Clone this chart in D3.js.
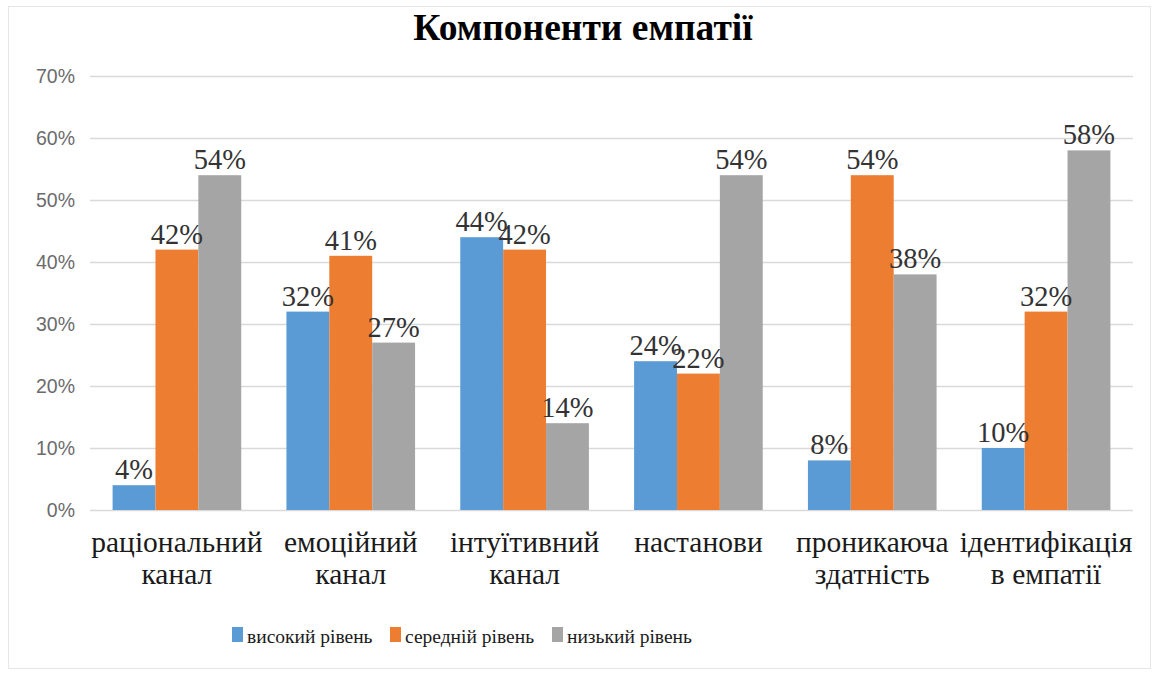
<!DOCTYPE html>
<html>
<head>
<meta charset="utf-8">
<script src="https://cdn.jsdelivr.net/npm/d3@7"></script>
<style>
  body { margin: 0; background: #fff; }
</style>
</head>
<body>
<div id="chart"></div>
<script>
// Dados do gráfico //
const categories = [["раціональний", "канал"], ["емоційний", "канал"], ["інтуїтивний", "канал"], ["настанови"], ["проникаюча", "здатність"], ["ідентифікація", "в емпатії"]]
const seriesNames = ["високий рівень", "середній рівень", "низький рівень"]
const highValues = [4, 32, 44, 24, 8, 10]
const midValues = [42, 41, 42, 22, 54, 32]
const lowValues = [54, 27, 14, 54, 38, 58]
const yTicks = [0, 10, 20, 30, 40, 50, 60, 70]
const colors = ["#5B9BD5", "#ED7D31", "#A5A5A5"]

const series = [highValues, midValues, lowValues]
const serif = "'Liberation Serif', 'Times New Roman', serif"
const sans = "'Liberation Sans', Arial, sans-serif"

// Renderiza //
const width = 1158, height = 675
const margin = {top: 76, right: 25, bottom: 165, left: 90}

const svg = d3.select("#chart").append("svg")
    .attr("width", width)
    .attr("height", height)

// borda do gráfico
svg.append("rect")
    .attr("x", 8.5).attr("y", 6.5)
    .attr("width", 1142).attr("height", 662)
    .attr("fill", "#fff")
    .attr("stroke", "#e6e6e6")

const x = d3.scaleBand()
    .domain(d3.range(categories.length))
    .range([margin.left, width - margin.right])
    .paddingInner(0.26)
    .paddingOuter(0.13)

const xSub = d3.scaleBand()
    .domain(d3.range(series.length))
    .range([0, x.bandwidth()])

const y = d3.scaleLinear()
    .domain([0, 70])
    .range([height - margin.bottom, margin.top])

// grade
svg.append("g")
    .selectAll("line")
    .data(yTicks)
    .join("line")
    .attr("x1", margin.left)
    .attr("x2", width - margin.right)
    .attr("y1", d => Math.round(y(d)) + 0.5)
    .attr("y2", d => Math.round(y(d)) + 0.5)
    .attr("stroke", "#d9d9d9")
    .attr("stroke-width", 1.5)

// eixo y
const yAxis = svg.append("g")
    .attr("transform", "translate(" + (margin.left - 15) + ",0)")
    .call(d3.axisLeft(y).tickValues(yTicks).tickSize(0).tickPadding(0).tickFormat(d => d + "%"))
yAxis.select(".domain").remove()
yAxis.selectAll("text")
    .attr("fill", "#6b6b6b")
    .style("font-family", sans)
    .style("font-size", "19.5px")

// barras
const groups = svg.append("g")
    .selectAll("g")
    .data(series)
    .join("g")
    .attr("fill", (d, i) => colors[i])

groups.selectAll("rect")
    .data((d, i) => d.map((v, j) => ({v: v, s: i, c: j})))
    .join("rect")
    .attr("x", d => x(d.c) + xSub(d.s))
    .attr("y", d => y(d.v))
    .attr("width", xSub.bandwidth())
    .attr("height", d => y(0) - y(d.v))

// rótulos dos valores
svg.append("g")
    .selectAll("text")
    .data(series.flatMap((d, i) => d.map((v, j) => ({v: v, s: i, c: j}))))
    .join("text")
    .attr("x", d => x(d.c) + xSub(d.s) + xSub.bandwidth() / 2)
    .attr("y", d => y(d.v) - 6)
    .attr("text-anchor", "middle")
    .attr("fill", "#333")
    .style("font-family", serif)
    .style("font-size", "28.5px")
    .text(d => d.v + "%")

// rótulos das categorias
const catText = svg.append("g")
    .selectAll("text")
    .data(categories)
    .join("text")
    .attr("x", (d, i) => x(i) + x.bandwidth() / 2)
    .attr("y", 552)
    .attr("text-anchor", "middle")
    .attr("fill", "#1a1a1a")
    .style("font-family", serif)
    .style("font-size", "29.5px")

catText.selectAll("tspan")
    .data(d => d)
    .join("tspan")
    .attr("x", function() { return this.parentNode.getAttribute("x") })
    .attr("dy", (d, i) => i === 0 ? 0 : 32)
    .text(d => d)

// título
svg.append("text")
    .attr("x", 583)
    .attr("y", 40)
    .attr("text-anchor", "middle")
    .attr("fill", "#000")
    .style("font-family", serif)
    .style("font-size", "37.5px")
    .style("font-weight", "bold")
    .text("Компоненти емпатії")

// legenda
const legendX = [232, 390, 552]
const legend = svg.append("g")
    .selectAll("g")
    .data(seriesNames)
    .join("g")
    .attr("transform", (d, i) => "translate(" + legendX[i] + ",627)")

legend.append("rect")
    .attr("width", 11)
    .attr("height", 15)
    .attr("fill", (d, i) => colors[i])

legend.append("text")
    .attr("x", 15)
    .attr("y", 16)
    .attr("fill", "#1a1a1a")
    .style("font-family", serif)
    .style("font-size", "19.5px")
    .text(d => d)
</script>
</body>
</html>
